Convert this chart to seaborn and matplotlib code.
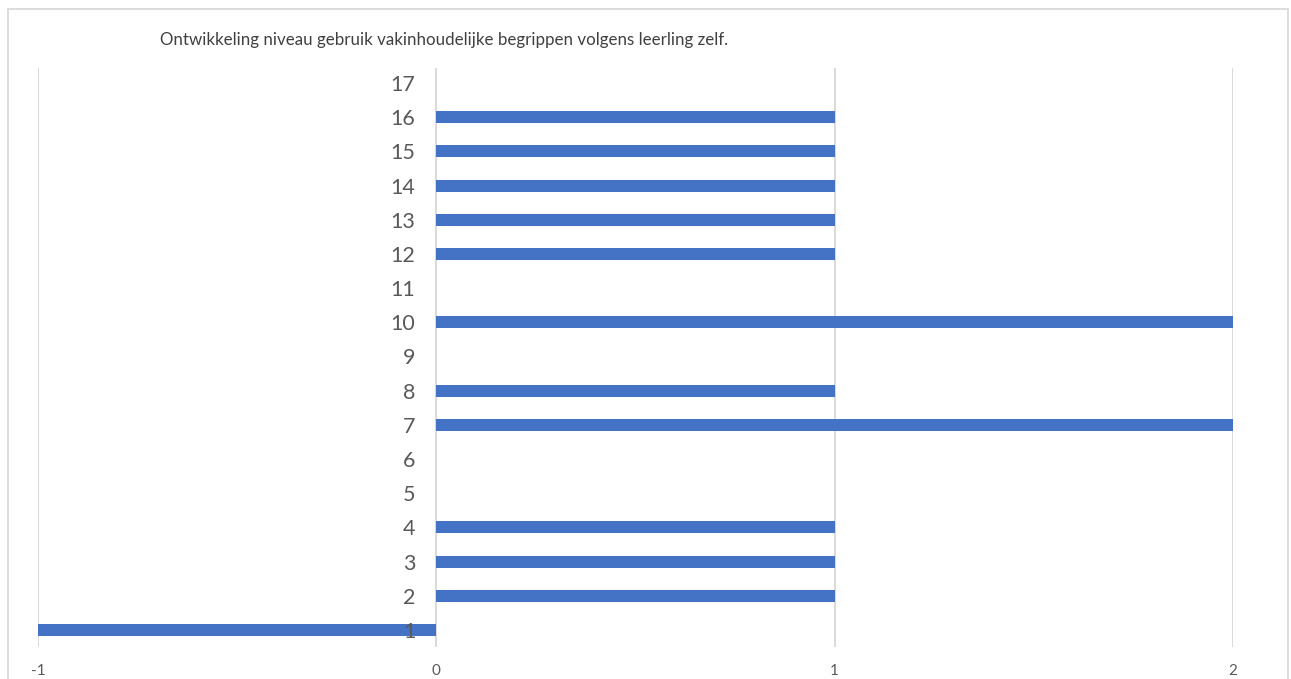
import numpy as np
import pandas as pd
import seaborn as sns
import matplotlib.pyplot as plt
from matplotlib.patches import Rectangle

leerlingen = [str(i) for i in range(1, 18)]
ontwikkeling = [-1, 1, 1, 1, 0, 0, 2, 1, 0, 2, 0, 1, 1, 1, 1, 1, 0]
x_ticks = [-1, 0, 1, 2]
titel = "Ontwikkeling niveau gebruik vakinhoudelijke begrippen volgens leerling zelf."

df = pd.DataFrame({"leerling": leerlingen, "ontwikkeling": ontwikkeling})

sns.set_style("white")
plt.rcParams['font.family'] = ['Lato', 'DejaVu Sans']

W, H = 1291, 679
fig = plt.figure(figsize=(W / 100, H / 100), dpi=100)
ax = fig.add_axes([38 / W, 1 - 647 / H, (1233 - 38) / W, (647 - 68) / H])

sns.barplot(data=df, x="ontwikkeling", y="leerling", order=leerlingen[::-1],
            orient="h", color="#4472C4", saturation=1, width=0.35,
            linewidth=0, ax=ax)

ax.set_xlim(-1, 2)
ax.set_ylim(16.5, -0.44)
ax.set_xticks(x_ticks)
ax.set_xticklabels([str(t) for t in x_ticks])
ax.grid(axis="x", color="#d9d9d9", linewidth=1.4)
ax.grid(axis="y", visible=False)
for s in ["top", "right", "bottom"]:
    ax.spines[s].set_visible(False)
ax.spines["left"].set_position(("data", 0))
ax.spines["left"].set_visible(False)
ax.yaxis.set_zorder(3)
ax.tick_params(axis="y", length=0, pad=15, labelsize=15.5, labelcolor="#595959")
ax.tick_params(axis="x", length=0, pad=12, labelsize=11, labelcolor="#595959")
ax.set_xlabel("")
ax.set_ylabel("")

fig.text(160 / W, 1 - 40 / H, titel, fontsize=12.2, color="#404040",
         ha="left", va="center")

fig.patches.append(Rectangle((8 / W, -0.05), (1288 - 8) / W, 1.05 - 9 / H,
                             transform=fig.transFigure, fill=False,
                             edgecolor="#d9d9d9", linewidth=1.3))

fig.savefig("out.png", dpi=100)
